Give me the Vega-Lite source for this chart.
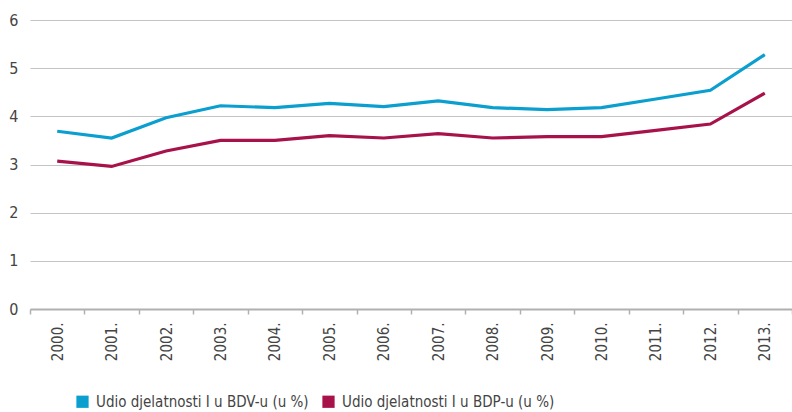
{
  "$schema": "https://vega.github.io/schema/vega-lite/v6.json",
  "autosize": {"type": "none"},
  "padding": {"left": 30, "top": 20, "right": 0, "bottom": 103},
  "width": 762,
  "height": 289,
  "background": "white",
  "config": {
    "view": {"stroke": null},
    "font": "DejaVu Sans Condensed, sans-serif",
    "axis": {"labelFont": "DejaVu Sans Condensed, sans-serif", "labelColor": "#444444", "labelFontSize": 15},
    "legend": {"labelFont": "DejaVu Sans Condensed, sans-serif", "labelColor": "#444444", "labelFontSize": 15}
  },
  "data": {
    "values": [
      {"year": "2000.", "series": "Udio djelatnosti I u BDV-u (u %)", "value": 3.69},
      {"year": "2001.", "series": "Udio djelatnosti I u BDV-u (u %)", "value": 3.55},
      {"year": "2002.", "series": "Udio djelatnosti I u BDV-u (u %)", "value": 3.97},
      {"year": "2003.", "series": "Udio djelatnosti I u BDV-u (u %)", "value": 4.22},
      {"year": "2004.", "series": "Udio djelatnosti I u BDV-u (u %)", "value": 4.18},
      {"year": "2005.", "series": "Udio djelatnosti I u BDV-u (u %)", "value": 4.27},
      {"year": "2006.", "series": "Udio djelatnosti I u BDV-u (u %)", "value": 4.2},
      {"year": "2007.", "series": "Udio djelatnosti I u BDV-u (u %)", "value": 4.32},
      {"year": "2008.", "series": "Udio djelatnosti I u BDV-u (u %)", "value": 4.18},
      {"year": "2009.", "series": "Udio djelatnosti I u BDV-u (u %)", "value": 4.14},
      {"year": "2010.", "series": "Udio djelatnosti I u BDV-u (u %)", "value": 4.18},
      {"year": "2011.", "series": "Udio djelatnosti I u BDV-u (u %)", "value": 4.36},
      {"year": "2012.", "series": "Udio djelatnosti I u BDV-u (u %)", "value": 4.54},
      {"year": "2013.", "series": "Udio djelatnosti I u BDV-u (u %)", "value": 5.28},
      {"year": "2000.", "series": "Udio djelatnosti I u BDP-u (u %)", "value": 3.07},
      {"year": "2001.", "series": "Udio djelatnosti I u BDP-u (u %)", "value": 2.96},
      {"year": "2002.", "series": "Udio djelatnosti I u BDP-u (u %)", "value": 3.28},
      {"year": "2003.", "series": "Udio djelatnosti I u BDP-u (u %)", "value": 3.5},
      {"year": "2004.", "series": "Udio djelatnosti I u BDP-u (u %)", "value": 3.5},
      {"year": "2005.", "series": "Udio djelatnosti I u BDP-u (u %)", "value": 3.6},
      {"year": "2006.", "series": "Udio djelatnosti I u BDP-u (u %)", "value": 3.55},
      {"year": "2007.", "series": "Udio djelatnosti I u BDP-u (u %)", "value": 3.64},
      {"year": "2008.", "series": "Udio djelatnosti I u BDP-u (u %)", "value": 3.55},
      {"year": "2009.", "series": "Udio djelatnosti I u BDP-u (u %)", "value": 3.58},
      {"year": "2010.", "series": "Udio djelatnosti I u BDP-u (u %)", "value": 3.58},
      {"year": "2011.", "series": "Udio djelatnosti I u BDP-u (u %)", "value": 3.71},
      {"year": "2012.", "series": "Udio djelatnosti I u BDP-u (u %)", "value": 3.84},
      {"year": "2013.", "series": "Udio djelatnosti I u BDP-u (u %)", "value": 4.48}
    ]
  },
  "mark": {"type": "line", "strokeWidth": 3.2, "strokeJoin": "miter"},
  "encoding": {
    "x": {
      "field": "year", "type": "ordinal",
      "scale": {"type": "band", "paddingInner": 0, "paddingOuter": 0},
      "axis": {
        "title": null, "labelAngle": -90, "labelAlign": "right", "labelBaseline": "middle",
        "labelPadding": 8, "tickBand": "extent", "tickSize": 5, "tickColor": "#b0b0b0",
        "tickWidth": 1.5, "domainColor": "#b0b0b0", "domainWidth": 2, "grid": false
      }
    },
    "y": {
      "field": "value", "type": "quantitative",
      "scale": {"domain": [0, 6], "nice": false},
      "axis": {
        "title": null, "values": [0, 1, 2, 3, 4, 5, 6], "domain": false, "ticks": false,
        "labelPadding": 12, "gridColor": "#c4c4c4", "gridWidth": 1.2, "labelFontSize": 16
      }
    },
    "color": {
      "field": "series", "type": "nominal",
      "scale": {
        "domain": ["Udio djelatnosti I u BDV-u (u %)", "Udio djelatnosti I u BDP-u (u %)"],
        "range": ["#0a9fcf", "#a8124a"]
      },
      "legend": {
        "title": null, "orient": "none", "direction": "horizontal",
        "legendX": 45, "legendY": 374, "symbolType": "square", "symbolSize": 150,
        "symbolStrokeWidth": 0, "symbolFillOpacity": 1, "columnPadding": 12, "labelOffset": 6,
        "labelLimit": 400,
        "encode": {"symbols": {"update": {"fill": {"scale": "color", "field": "value"}, "strokeWidth": {"value": 0}, "opacity": {"value": 1}}}}
      }
    }
  }
}
